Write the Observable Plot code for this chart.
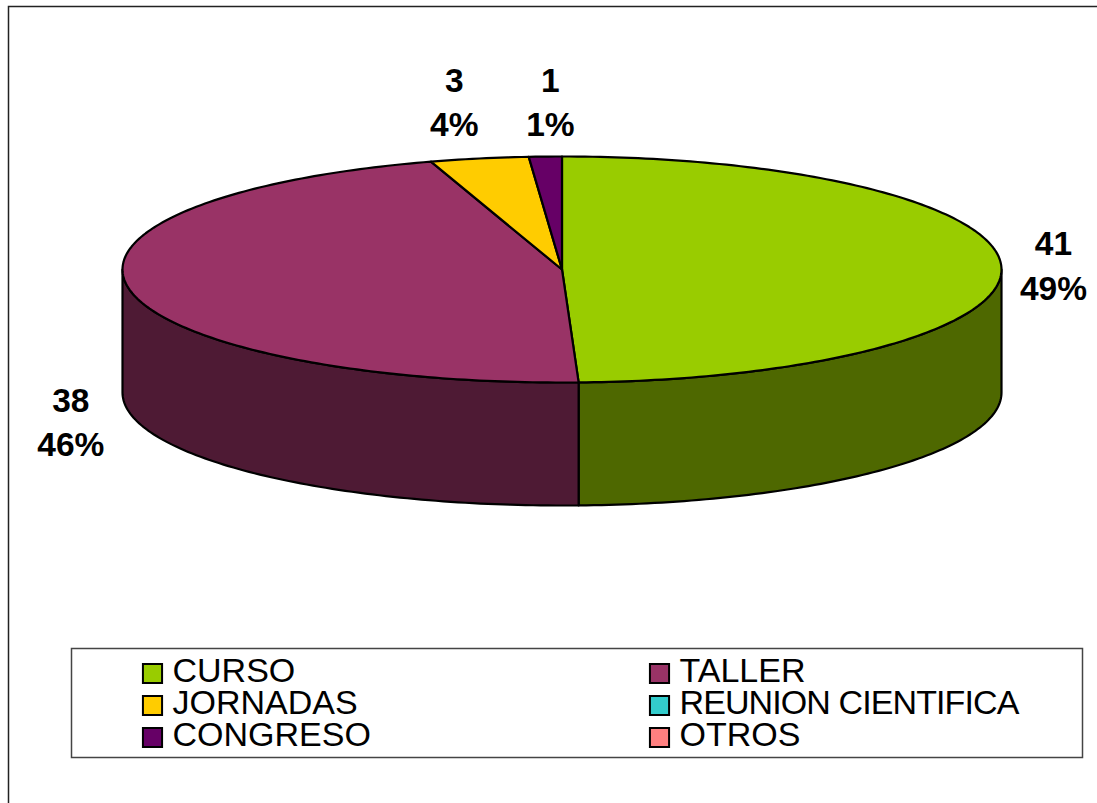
<!DOCTYPE html>
<html>
<head>
<meta charset="utf-8">
<script src="https://cdn.jsdelivr.net/npm/d3@7"></script>
<script src="https://cdn.jsdelivr.net/npm/@observablehq/plot@0.6"></script>
<style>
  html, body { margin: 0; padding: 0; background: #fff; }
  svg { display: block; background: #fff; }
  #chart { width: 1097px; height: 803px; overflow: hidden; }
  .tight text { letter-spacing: -0.9px; }
</style>
</head>
<body>
<div id="chart"></div>
<script>
// Chart data
const categories = ["CURSO", "TALLER", "JORNADAS", "REUNION CIENTIFICA", "CONGRESO", "OTROS"];
const counts = [41, 38, 3, 0, 1, 0];
const percents = [49, 46, 4, 0, 1, 0];
const colors = ["#99cc00", "#993366", "#ffcc00", "#33cccc", "#660066", "#ff8080"];

const FONT = "'Liberation Sans', Arial, sans-serif";
const W = 1097, PIE_H = 640, LEG_H = 163;
const DEPTH = 123 / 113;               // cylinder height in ellipse-radius units
const STEP = Math.PI / 180;

const arcs = d3.pie().sort(null).value((d) => d.count)(
  categories.map((name, i) => ({name, count: counts[i], pct: percents[i], color: colors[i]}))
).filter((a) => a.data.count > 0);

const pt = (a, drop = 0) => ({x: Math.sin(a), y: Math.cos(a) - drop});
const arcPts = (a0, a1, drop = 0) => {
  const n = Math.max(1, Math.ceil(Math.abs(a1 - a0) / STEP));
  return d3.range(n + 1).map((i) => pt(a0 + (a1 - a0) * i / n, drop));
};

// top faces of the slices
const tops = arcs.flatMap((a) =>
  [{x: 0, y: 0}, ...arcPts(a.startAngle, a.endAngle), {x: 0, y: 0}]
    .map((p) => ({...p, key: a.data.name, fill: a.data.color})));

// visible outer wall of the slices (front half of the ellipse)
const sides = arcs.flatMap((a) => {
  const a0 = Math.max(a.startAngle, Math.PI / 2), a1 = Math.min(a.endAngle, 3 * Math.PI / 2);
  if (a1 <= a0) return [];
  const c = d3.rgb(a.data.color);
  const fill = d3.rgb(c.r * 0.51, c.g * 0.51, c.b * 0.51).formatHex();
  const top = arcPts(a0, a1);
  return [...top, ...arcPts(a1, a0, DEPTH), top[0]].map((p) => ({...p, key: a.data.name, fill}));
});

// label offsets from the rim point at each slice's middle angle
const labelShift = {CURSO: [52, -4], TALLER: [-58, 131], JORNADAS: [-25, -59], CONGRESO: [5, -57]};
const labelMarks = arcs.map((a) => {
  const p = pt((a.startAngle + a.endAngle) / 2);
  const [dx, dy] = labelShift[a.data.name];
  return Plot.text([{...p, t: `${a.data.count}\n${a.data.pct}%`}], {
    x: "x", y: "y", text: "t", dx, dy,
    fontSize: 33.5, fontWeight: "bold", lineHeight: 1.32, fill: "#000",
    textAnchor: "middle", lineAnchor: "middle", fontFamily: FONT
  });
});

const pie = Plot.plot({
  width: W, height: PIE_H, margin: 0,
  style: {background: "#fff", fontFamily: FONT},
  x: {domain: [-1, 1], range: [122, 1001], axis: null},
  y: {domain: [-1, 1], range: [382, 156], axis: null},
  color: {type: "identity"},
  marks: [
    Plot.frame({insetLeft: 8, insetTop: 6, insetRight: -10, insetBottom: -10, stroke: "#222", strokeWidth: 1.5}),
    Plot.line(sides, {x: "x", y: "y", z: "key", fill: "fill", stroke: "#000", strokeWidth: 2.2, strokeLinejoin: "round"}),
    Plot.line(tops, {x: "x", y: "y", z: "key", fill: "fill", stroke: "#000", strokeWidth: 2.2, strokeLinejoin: "round"}),
    ...labelMarks
  ]
});

const legendRows = categories.map((name, i) => ({name, color: colors[i], col: i % 2, row: Math.floor(i / 2)}));
const legendText = (rows, extra = {}) => Plot.text(rows, {
  x: "col", y: "row", text: "name", dx: 20, dy: -2.5, textAnchor: "start",
  fontSize: 34, fill: "#000", fontFamily: FONT, ...extra
});

const legend = Plot.plot({
  width: W, height: LEG_H, margin: 0,
  style: {background: "#fff", fontFamily: FONT},
  x: {type: "point", domain: [0, 1], range: [151.5, 658.5], padding: 0, axis: null},
  y: {type: "point", domain: [0, 1, 2], range: [32.5, 96.5], padding: 0, axis: null},
  color: {type: "identity"},
  marks: [
    Plot.frame({insetLeft: 8, insetTop: -10, insetRight: -10, insetBottom: -10, stroke: "#222", strokeWidth: 1.5}),
    Plot.frame({insetLeft: 71, insetRight: 15, insetTop: 8, insetBottom: 46, stroke: "#444", strokeWidth: 1.5}),
    Plot.dot(legendRows, {x: "col", y: "row", fill: "color", stroke: "#000", strokeWidth: 2, symbol: "square", r: 10.8}),
    legendText(legendRows.filter((d) => d.name.length < 12)),
    legendText(legendRows.filter((d) => d.name.length >= 12), {className: "tight"})
  ]
});

document.getElementById("chart").append(pie, legend);
</script>
</body>
</html>
